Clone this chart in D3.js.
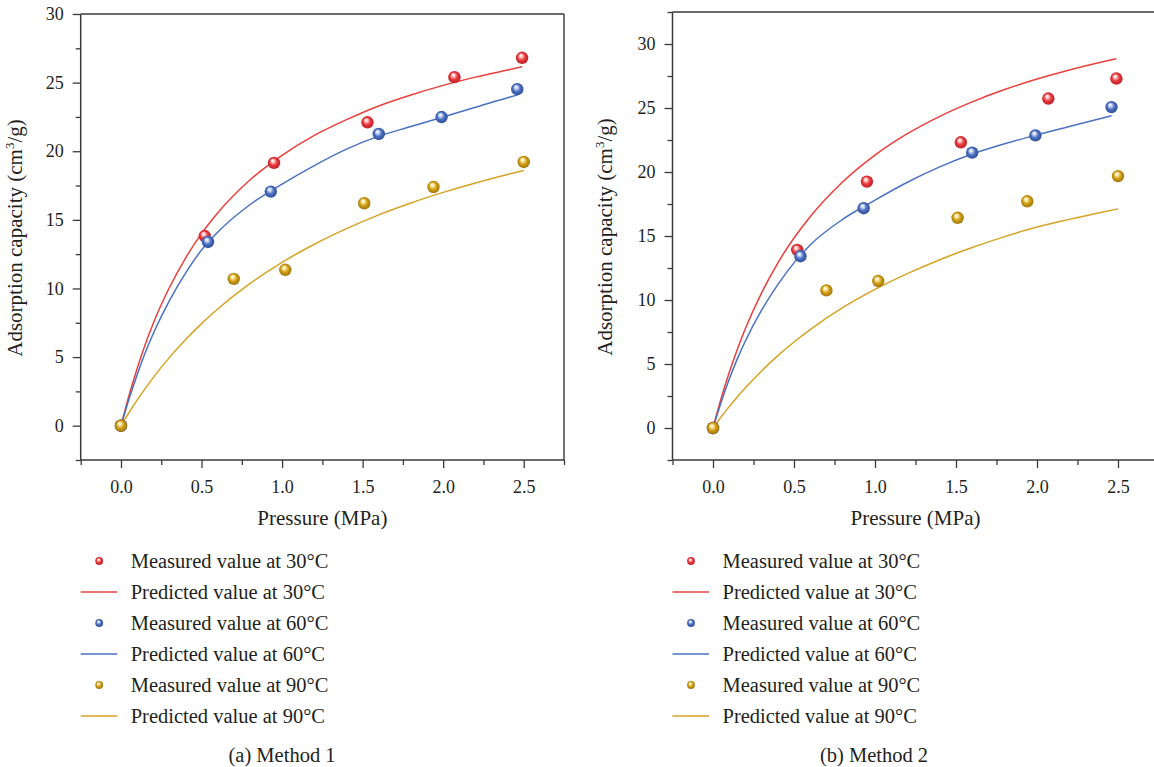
<!DOCTYPE html>
<html><head><meta charset="utf-8">
<script src="https://cdn.jsdelivr.net/npm/d3@7"></script>
<style>
html,body{margin:0;padding:0;background:#fff;}
svg{display:block;}
</style></head>
<body>
<svg id="chart" width="1154" height="767" font-family="Liberation Serif, DejaVu Serif, serif"></svg>
<script>
// ---------- DATA ----------
const seriesLabels = ["30°C", "60°C", "90°C"];
const panelCaptions = ["(a) Method 1", "(b) Method 2"];
const xTickLabels = [0.0, 0.5, 1.0, 1.5, 2.0, 2.5];
const yTickLabels = [0, 5, 10, 15, 20, 25, 30];

// measured pressures (MPa)
const measP_30 = [0, 0.52, 0.95, 1.53, 2.07, 2.49];
const measP_60 = [0, 0.54, 0.93, 1.60, 1.99, 2.46];
const measP_90 = [0, 0.70, 1.02, 1.51, 1.94, 2.50];

// Method 1 measured adsorption (cm3/g)
const m1Meas_30 = [0, 13.82, 19.15, 22.11, 25.40, 26.81];
const m1Meas_60 = [0, 13.39, 17.06, 21.26, 22.49, 24.52];
const m1Meas_90 = [0, 10.70, 11.36, 16.21, 17.39, 19.22];
// Method 2 measured adsorption (cm3/g)
const m2Meas_30 = [0, 13.91, 19.25, 22.32, 25.74, 27.30];
const m2Meas_60 = [0, 13.42, 17.17, 21.51, 22.86, 25.07];
const m2Meas_90 = [0, 10.75, 11.48, 16.42, 17.71, 19.68];

// predicted curves: pressures
const predP_30 = [0, 0.05, 0.1, 0.15, 0.2, 0.3, 0.4, 0.5, 0.6, 0.8, 1.0, 1.2, 1.4, 1.6, 1.8, 2.0, 2.2, 2.4, 2.49];
const predP_60 = [0, 0.05, 0.1, 0.15, 0.2, 0.3, 0.4, 0.5, 0.6, 0.8, 1.0, 1.2, 1.4, 1.6, 1.8, 2.0, 2.2, 2.4, 2.46];
const predP_90 = [0, 0.05, 0.1, 0.15, 0.2, 0.3, 0.4, 0.5, 0.6, 0.8, 1.0, 1.2, 1.4, 1.6, 1.8, 2.0, 2.2, 2.4, 2.50];
// Method 1 predicted
const m1Pred_30 = [0, 2.2, 4.15, 5.9, 7.45, 10.05, 12.2, 14.0, 15.5, 17.9, 19.7, 21.15, 22.3, 23.3, 24.1, 24.8, 25.4, 25.92, 26.15];
const m1Pred_60 = [0, 1.95, 3.7, 5.3, 6.7, 9.1, 11.1, 12.8, 14.1, 16.1, 17.6, 18.95, 20.15, 21.1, 21.8, 22.5, 23.2, 23.9, 24.1];
const m1Pred_90 = [0, 0.96, 1.86, 2.7, 3.5, 4.96, 6.26, 7.44, 8.5, 10.35, 11.9, 13.22, 14.36, 15.36, 16.23, 17.0, 17.69, 18.31, 18.6];
// Method 2 predicted
const m2Pred_30 = [0, 2.3, 4.33, 6.14, 7.77, 10.56, 12.89, 14.84, 16.51, 19.22, 21.32, 22.99, 24.35, 25.48, 26.44, 27.26, 27.97, 28.59, 28.84];
const m2Pred_60 = [0, 2.0, 3.8, 5.4, 6.8, 9.2, 11.2, 12.9, 14.3, 16.3, 17.8, 19.2, 20.4, 21.4, 22.2, 22.9, 23.55, 24.2, 24.4];
const m2Pred_90 = [0, 0.86, 1.67, 2.43, 3.14, 4.46, 5.65, 6.72, 7.69, 9.4, 10.83, 12.06, 13.15, 14.1, 14.95, 15.7, 16.3, 16.85, 17.12];

// ---------- STYLE ----------
const FONT = '"Liberation Serif", "DejaVu Serif", serif';
const colors = {
  "30°C": {line: "#e8403c", base: "#e8363b", light: "#ffd9d9", dark: "#b51f24"},
  "60°C": {line: "#4a72c2", base: "#4a6dbf", light: "#dbe5fa", dark: "#2a4a94"},
  "90°C": {line: "#d6a424", base: "#d19d14", light: "#fff2b8", dark: "#94700a"}
};

const panels = [
  {left: 80.7, right: 564, top: 14, bottom: 460, yMax: 30,
   meas: [m1Meas_30, m1Meas_60, m1Meas_90], pred: [m1Pred_30, m1Pred_60, m1Pred_90],
   titleX: 22, legendX: 80.7, caption: panelCaptions[0], captionX: 282},
  {left: 672.5, right: 1158.5, top: 12, bottom: 460, yMax: 32.5,
   meas: [m2Meas_30, m2Meas_60, m2Meas_90], pred: [m2Pred_30, m2Pred_60, m2Pred_90],
   titleX: 612, legendX: 672.5, caption: panelCaptions[1], captionX: 874}
];
const measP = [measP_30, measP_60, measP_90];
const predP = [predP_30, predP_60, predP_90];

const svg = d3.select("#chart");
const defs = svg.append("defs");
seriesLabels.forEach((s, i) => {
  const c = colors[s];
  const g = defs.append("radialGradient").attr("id", "ball" + i)
    .attr("cx", "0.5").attr("cy", "0.5").attr("r", "0.55").attr("fx", "0.38").attr("fy", "0.3");
  g.append("stop").attr("offset", "0%").attr("stop-color", "#ffffff");
  g.append("stop").attr("offset", "18%").attr("stop-color", c.light);
  g.append("stop").attr("offset", "55%").attr("stop-color", c.base);
  g.append("stop").attr("offset", "100%").attr("stop-color", c.dark);
});

const axisColor = "#3a3a3a";
const textColor = "#231f20";

function styleText(sel, size) {
  sel.attr("font-family", FONT).style("font-family", FONT)
     .style("font-size", size + "px").attr("fill", textColor);
}

panels.forEach((p, pi) => {
  const x = d3.scaleLinear().domain([-0.25, 2.75]).range([p.left, p.right]);
  const y = d3.scaleLinear().domain([-2.5, p.yMax]).range([p.bottom, p.top]);
  const g = svg.append("g");

  // frame (top & right)
  g.append("line").attr("x1", p.left).attr("x2", p.right).attr("y1", p.top).attr("y2", p.top)
    .attr("stroke", axisColor).attr("stroke-width", 1.4);
  g.append("line").attr("x1", p.right).attr("x2", p.right).attr("y1", p.top).attr("y2", p.bottom)
    .attr("stroke", axisColor).attr("stroke-width", 1.4);

  // minor ticks
  const yMinor = d3.range(-2.5, p.yMax + 0.01, 2.5).filter(v => Math.abs(v % 5) > 0.01);
  const xMinor = d3.range(-0.25, 2.76, 0.5);
  g.append("g").attr("transform", `translate(${p.left},0)`)
    .call(d3.axisLeft(y).tickValues(yMinor).tickSize(5).tickFormat(""))
    .call(a => a.select(".domain").remove())
    .call(a => a.selectAll("line").attr("stroke", axisColor).attr("stroke-width", 1.3));
  g.append("g").attr("transform", `translate(0,${p.bottom})`)
    .call(d3.axisBottom(x).tickValues(xMinor).tickSize(5).tickFormat(""))
    .call(a => a.select(".domain").remove())
    .call(a => a.selectAll("line").attr("stroke", axisColor).attr("stroke-width", 1.3));

  // major axes
  const yAx = g.append("g").attr("transform", `translate(${p.left},0)`)
    .call(d3.axisLeft(y).tickValues(yTickLabels).tickSize(8).tickPadding(9).tickSizeOuter(0).tickFormat(d3.format("d")));
  yAx.attr("font-family", FONT);
  yAx.select(".domain").attr("stroke", axisColor).attr("stroke-width", 1.5)
    .attr("d", `M0,${p.top}V${p.bottom}`);
  yAx.selectAll("line").attr("stroke", axisColor).attr("stroke-width", 1.3);
  styleText(yAx.selectAll("text"), 18);

  const xAx = g.append("g").attr("transform", `translate(0,${p.bottom})`)
    .call(d3.axisBottom(x).tickValues(xTickLabels).tickSize(8).tickPadding(12).tickSizeOuter(0).tickFormat(d3.format(".1f")));
  xAx.attr("font-family", FONT);
  xAx.select(".domain").attr("stroke", axisColor).attr("stroke-width", 1.5)
    .attr("d", `M${p.left},0H${p.right}`);
  xAx.selectAll("line").attr("stroke", axisColor).attr("stroke-width", 1.3);
  styleText(xAx.selectAll("text"), 18);

  // axis titles
  const xt = g.append("text").attr("x", (x(0) + x(2.5)) / 2).attr("y", 525).attr("text-anchor", "middle")
    .text("Pressure (MPa)");
  styleText(xt, 21);
  const yt = g.append("text").attr("transform", `translate(${p.titleX},${(p.top + p.bottom) / 2 + 1}) rotate(-90)`)
    .attr("text-anchor", "middle");
  styleText(yt, 21);
  yt.append("tspan").text("Adsorption capacity (cm");
  yt.append("tspan").attr("dy", -8).style("font-size", "13px").text("3");
  yt.append("tspan").attr("dy", 8).text("/g)");

  // predicted lines
  const line = d3.line().x(d => x(d[0])).y(d => y(d[1])).curve(d3.curveMonotoneX);
  seriesLabels.forEach((s, i) => {
    const pts = predP[i].map((v, k) => [v, p.pred[i][k]]);
    g.append("path").datum(pts).attr("d", line).attr("fill", "none")
      .attr("stroke", colors[s].line).attr("stroke-width", 1.5);
  });
  // measured points
  seriesLabels.forEach((s, i) => {
    g.append("g").selectAll("circle").data(measP[i].map((v, k) => [v, p.meas[i][k]]))
      .join("circle").attr("cx", d => x(d[0])).attr("cy", d => y(d[1])).attr("r", 6.2)
      .attr("fill", `url(#ball${i})`);
  });

  // legend
  const rows = [];
  seriesLabels.forEach((s, i) => {
    rows.push({type: "meas", s, i, label: "Measured value at " + s});
    rows.push({type: "pred", s, i, label: "Predicted value at " + s});
  });
  const lg = g.append("g");
  rows.forEach((r, k) => {
    const cy = 561 + k * 31;
    if (r.type === "meas") {
      lg.append("circle").attr("cx", p.legendX + 18.5).attr("cy", cy).attr("r", 3.9)
        .attr("fill", `url(#ball${r.i})`);
    } else {
      lg.append("line").attr("x1", p.legendX).attr("x2", p.legendX + 36.5).attr("y1", cy).attr("y2", cy)
        .attr("stroke", colors[r.s].line).attr("stroke-width", 1.5);
    }
    const t = lg.append("text").attr("x", p.legendX + 50).attr("y", cy).attr("dy", "0.35em").text(r.label);
    styleText(t, 20.5);
  });
  const cap = g.append("text").attr("x", p.captionX).attr("y", 755).attr("dy", "0.35em").attr("text-anchor", "middle")
    .text(p.caption);
  styleText(cap, 20.5);
});
</script>
</body></html>
